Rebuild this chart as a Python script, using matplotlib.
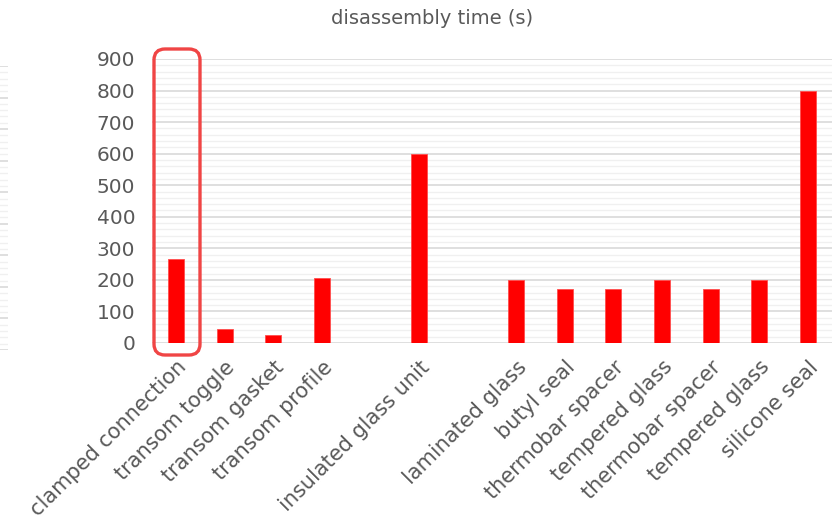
import matplotlib.pyplot as plt
from matplotlib.patches import FancyBboxPatch
from matplotlib.transforms import IdentityTransform
from matplotlib.ticker import MultipleLocator

# data (two blank slots separate the groups)
categories = ['clamped connection', 'transom toggle', 'transom gasket', 'transom profile', '',
              'insulated glass unit', '', 'laminated glass', 'butyl seal', 'thermobar spacer',
              'tempered glass', 'thermobar spacer', 'tempered glass', 'silicone seal']
times = [265, 45, 25, 205, 0, 600, 0, 200, 170, 170, 200, 170, 200, 800]
y_ticks = [0, 100, 200, 300, 400, 500, 600, 700, 800, 900]

plt.rcParams['font.family'] = ['DejaVu Sans']
grey = '#595959'

W, H = 836, 522
fig = plt.figure(figsize=(W / 100, H / 100), dpi=100)
ax = fig.add_axes([152 / W, (H - 343) / H, (832 - 152) / W, (343 - 59) / H])

x = list(range(len(categories)))
ax.bar(x, times, width=0.33, color='#ff0000', edgecolor='#ff4d4d', linewidth=0.6, zorder=3)

ax.set_xlim(-0.5, len(categories) - 0.5)
ax.set_ylim(0, 900)
ax.set_yticks(y_ticks)
ax.yaxis.set_minor_locator(MultipleLocator(20))
ax.grid(axis='y', which='major', color='#d9d9d9', linewidth=1.2, zorder=0)
ax.grid(axis='y', which='minor', color='#f0f0f0', linewidth=1.0, zorder=0)
for s in ax.spines.values():
    s.set_visible(False)
ax.tick_params(axis='y', which='both', length=0, pad=12, labelsize=14.5, labelcolor=grey)
ax.tick_params(axis='x', length=0, pad=10)
ax.set_xticks(x)
ax.set_xticklabels(categories, rotation=45, ha='right', va='top', rotation_mode='anchor',
                   fontsize=15, color=grey)

fig.text(432 / W, 1 - 18 / H, 'disassembly time (s)', ha='center', va='center',
         fontsize=14, color=grey)

# rounded highlight around the first bar (pixel coordinates)
box = FancyBboxPatch((154, H - 355), 46, 355 - 49, boxstyle='round,pad=0,rounding_size=11',
                     transform=IdentityTransform(), fill=False, edgecolor='#f04545',
                     linewidth=2.4, zorder=5)
fig.patches.append(box)

# cut-off gridlines of a neighbouring chart at the left edge
ax2 = fig.add_axes([0, (H - 350) / H, 8 / W, (350 - 66) / H])
ax2.set_ylim(0, 900)
ax2.set_yticks(y_ticks)
ax2.yaxis.set_minor_locator(MultipleLocator(20))
ax2.grid(axis='y', which='major', color='#d9d9d9', linewidth=1.2)
ax2.grid(axis='y', which='minor', color='#f0f0f0', linewidth=1.0)
ax2.set_xticks([])
ax2.tick_params(axis='y', which='both', length=0, labelleft=False)
for s in ax2.spines.values():
    s.set_visible(False)

fig.savefig('out.png', dpi=100)
